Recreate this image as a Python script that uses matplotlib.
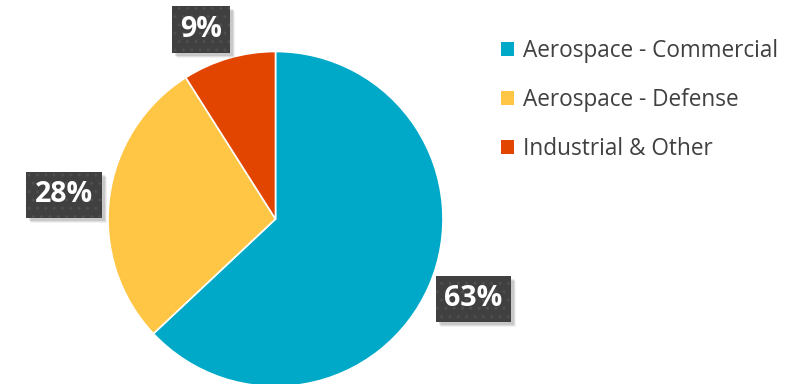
import matplotlib.pyplot as plt
from matplotlib.patches import Rectangle

segments = ["Aerospace - Commercial", "Aerospace - Defense", "Industrial & Other"]
shares = [63, 28, 9]
colors = ["#00A9C8", "#FFC545", "#E24500"]

# label box centres in pixels (x, y from top)
label_pos = [(473.5, 299), (64, 195), (201, 29.5)]

W, H = 804, 384
fig = plt.figure(figsize=(W / 100, H / 100), dpi=100)
ax = fig.add_axes([0, 0, 1, 1])

cx, cy, r = 275.5, H - 219, 167.5
wedges, _ = ax.pie(shares, colors=colors, startangle=90, counterclock=False,
                   center=(cx, cy), radius=r,
                   wedgeprops=dict(edgecolor="white", linewidth=1.2))
ax.set_xlim(0, W)
ax.set_ylim(0, H)
ax.set_aspect("equal")
ax.axis("off")

labels = []
for val, (px, py) in zip(shares, label_pos):
    t = ax.text(px, H - py, f"{val}%", ha="center", va="center", fontsize=20.5,
                fontweight="bold", family="Open Sans", color="white",
                bbox=dict(boxstyle="square,pad=0.3", facecolor="#404040",
                          edgecolor="#4e4e4e", linewidth=0, hatch=".."),
                zorder=5)
    labels.append(t)

leg = ax.legend(wedges, segments, loc="upper left",
                bbox_to_anchor=(501 / W, 1 - 39 / H), frameon=False,
                prop=dict(family="Open Sans", size=16.3),
                handlelength=0.57, handleheight=0.57, handletextpad=0.42,
                labelspacing=1.1, borderpad=0, borderaxespad=0)
for txt in leg.get_texts():
    txt.set_color("#404040")
for h in leg.legend_handles:
    h.set_edgecolor("none")

# soft drop shadows behind the label boxes
fig.canvas.draw()
inv = ax.transData.inverted()
for t in labels:
    bb = t.get_bbox_patch().get_window_extent().transformed(inv)
    for k, a in [(5, 0.05), (4, 0.08), (3, 0.1)]:
        ax.add_patch(Rectangle((bb.x0 + k, bb.y0 - k), bb.width, bb.height,
                               facecolor="black", alpha=a, edgecolor="none",
                               zorder=4))

fig.savefig("out.png", dpi=100)
